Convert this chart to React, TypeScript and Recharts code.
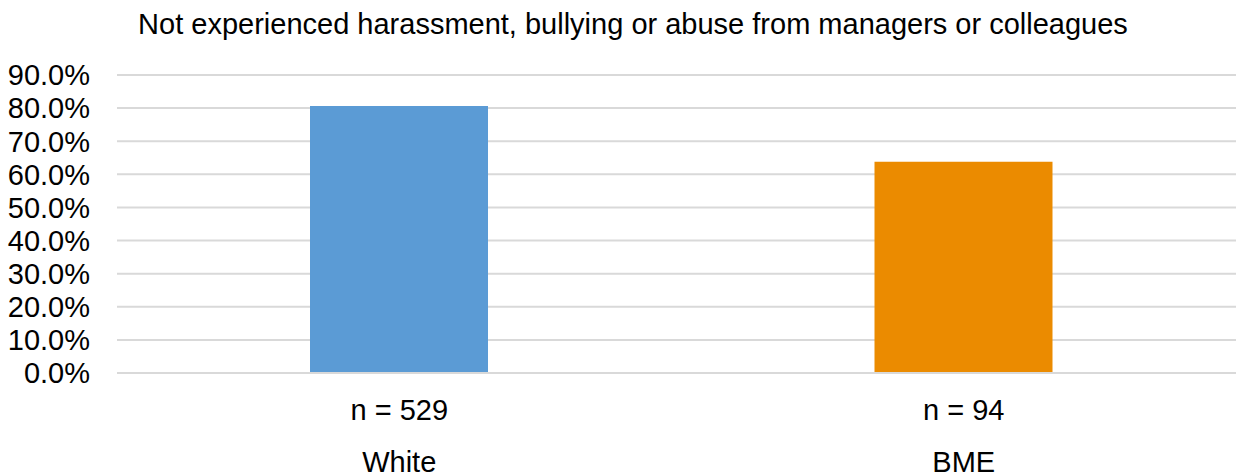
import React from "react";
import { BarChart, Bar, XAxis, YAxis, CartesianGrid, Cell } from "recharts";

const categories = ["White", "BME"];
const values = [80.6, 63.8];
const sampleLabels = ["n = 529", "n = 94"];
const colors = ["#5B9BD5", "#EB8B00"];
const yTicks = [0, 10, 20, 30, 40, 50, 60, 70, 80, 90];
const title = "Not experienced harassment, bullying or abuse from managers or colleagues";

const data = categories.map((c, i) => ({ name: c, value: values[i], n: sampleLabels[i] }));

const FONT = "'Liberation Sans', Arial, sans-serif";

const XTick = (props: any) => {
  const { x, y, payload, index } = props;
  return (
    <g>
      <text x={x} y={y + 45} textAnchor="middle" fontFamily={FONT} fontSize={29} fill="#000">
        {sampleLabels[index]}
      </text>
      <text x={x} y={y + 97} textAnchor="middle" fontFamily={FONT} fontSize={29} fill="#000">
        {payload.value}
      </text>
    </g>
  );
};

export default function App() {
  return (
    <div style={{ position: "absolute", left: 0, top: 0, width: 1236, height: 474, overflow: "hidden", background: "#fff" }}>
      <div
        style={{
          position: "absolute",
          left: 0,
          top: 8,
          width: 1266,
          textAlign: "center",
          fontFamily: FONT,
          fontSize: 29,
          color: "#000",
          whiteSpace: "nowrap",
        }}
      >
        {title}
      </div>
      <BarChart
        width={1250}
        height={474}
        data={data}
        margin={{ top: 75, right: 4, bottom: 0, left: 0 }}
      >
        <CartesianGrid horizontal vertical={false} stroke="#d9d9d9" strokeWidth={2} />
        <XAxis
          dataKey="name"
          height={101}
          axisLine={{ stroke: "#d9d9d9", strokeWidth: 2 }}
          tickLine={false}
          tickSize={0}
          tick={<XTick />}
          interval={0}
        />
        <YAxis
          width={117}
          domain={[0, 90]}
          ticks={yTicks}
          interval={0}
          axisLine={false}
          tickLine={false}
          tickSize={0}
          tickMargin={27}
          tickFormatter={(v: number) => v.toFixed(1) + "%"}
          tick={{ fontFamily: FONT, fontSize: 29, fill: "#000" }}
        />
        <Bar dataKey="value" barSize={178} isAnimationActive={false}>
          {data.map((d, i) => (
            <Cell key={d.name} fill={colors[i]} />
          ))}
        </Bar>
      </BarChart>
    </div>
  );
}
